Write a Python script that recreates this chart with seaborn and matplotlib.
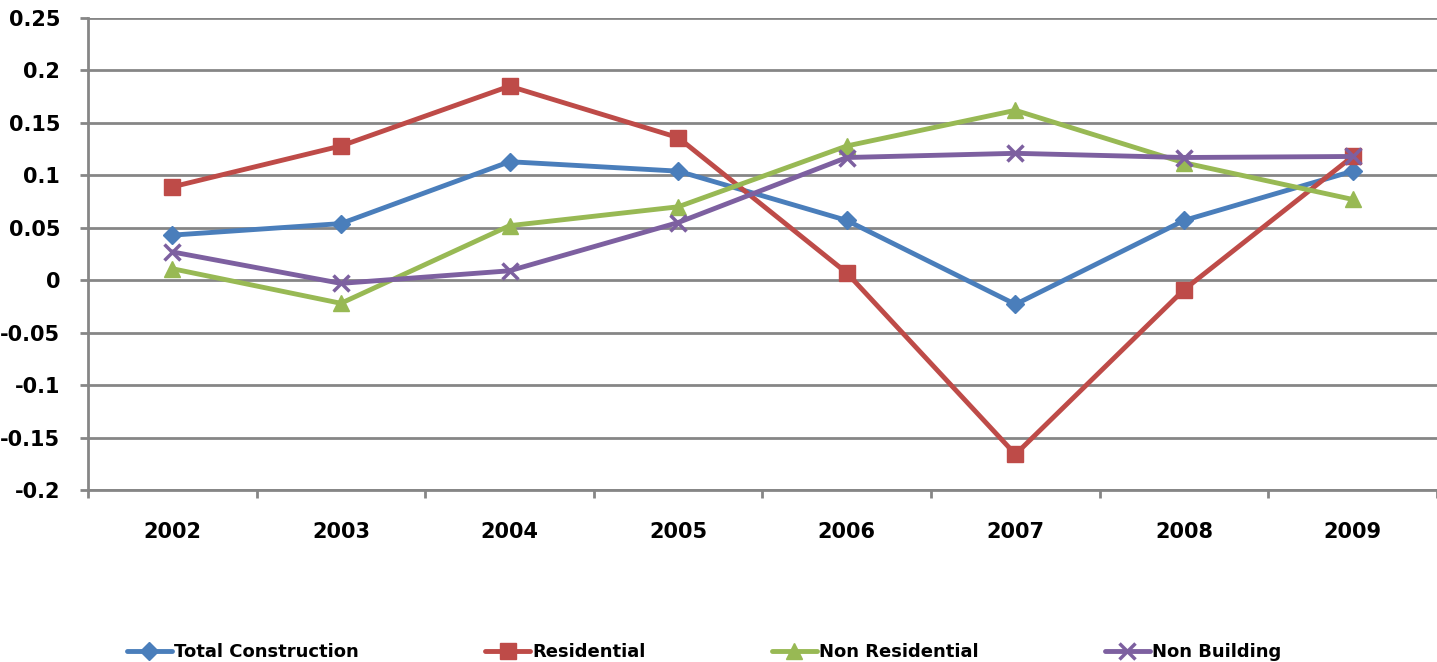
import pandas as pd
import seaborn as sns
import matplotlib.pyplot as plt

years = ['2002', '2003', '2004', '2005', '2006', '2007', '2008', '2009']
total_construction = [0.043, 0.054, 0.113, 0.104, 0.057, -0.023, 0.057, 0.104]
residential = [0.089, 0.128, 0.185, 0.136, 0.007, -0.166, -0.009, 0.118]
non_residential = [0.011, -0.022, 0.052, 0.070, 0.128, 0.162, 0.112, 0.077]
non_building = [0.027, -0.003, 0.009, 0.055, 0.117, 0.121, 0.117, 0.118]

series = {
    'Total Construction': total_construction,
    'Residential': residential,
    'Non Residential': non_residential,
    'Non Building': non_building,
}
colors = ['#4A7EBB', '#BE4B48', '#98B954', '#7D60A0']
markers = ['D', 's', '^', 'x']
msizes = [9, 12, 12, 12]

df = pd.DataFrame([(y, name, v) for name, vals in series.items() for y, v in zip(years, vals)],
                  columns=['Year', 'Series', 'Value'])

sns.set_style('white')
plt.rcParams['font.family'] = ['DejaVu Sans']
plt.rcParams['text.color'] = 'black'

fig = plt.figure(figsize=(14.37, 6.62), dpi=100)
ax = fig.add_axes([0.0612, 0.2598, 0.9388, 0.713])

for (name, _), c, m, ms in zip(series.items(), colors, markers, msizes):
    sns.lineplot(data=df[df['Series'] == name], x='Year', y='Value', color=c,
                 marker=m, markersize=ms, markeredgecolor=c, markeredgewidth=2.5 if m == 'x' else 1,
                 linewidth=3.5, label=name, ax=ax)

ax.set_xlim(-0.5, 7.5)
ax.set_ylim(-0.2, 0.25)
yt = [-0.2, -0.15, -0.1, -0.05, 0, 0.05, 0.1, 0.15, 0.2, 0.25]
ax.set_yticks(yt)
ax.set_yticklabels(['-0.2', '-0.15', '-0.1', '-0.05', '0', '0.05', '0.1', '0.15', '0.2', '0.25'],
                   fontsize=15, fontweight='bold', color='black')
ax.set_xticks(range(len(years)))
ax.set_xticklabels(years, fontsize=15, fontweight='bold', color='black')
ax.set_xticks([i - 0.5 for i in range(len(years) + 1)], minor=True)
ax.tick_params(axis='x', which='major', bottom=False, length=0, pad=23)
ax.tick_params(axis='x', which='minor', bottom=True, length=6, width=2, color='#868686')
ax.tick_params(axis='y', left=True, length=6, width=2, color='#868686', pad=14)
ax.grid(axis='y', color='#868686', linewidth=2)
ax.set_axisbelow(True)
for s in ['top', 'right']:
    ax.spines[s].set_visible(False)
for s in ['left', 'bottom']:
    ax.spines[s].set_color('#868686')
    ax.spines[s].set_linewidth(2)
ax.set_xlabel('')
ax.set_ylabel('')

handles, labels = ax.get_legend_handles_labels()
ax.get_legend().remove()
fig.legend(handles, labels, loc='lower left', bbox_to_anchor=(0.077, -0.023), ncol=4,
           frameon=False, columnspacing=7.0, handlelength=2.5, handletextpad=0.1,
           prop={'size': 13, 'weight': 'bold'})

fig.savefig('out.png', dpi=100)
